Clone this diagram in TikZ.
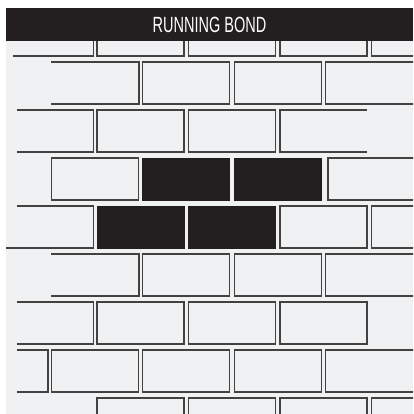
\documentclass[tikz,border=0pt]{standalone}
\usepackage{fontspec}
\newfontfamily\titlefont[FakeStretch=0.66]{Liberation Sans}
\usetikzlibrary{positioning}

\definecolor{wallgray}{HTML}{F0F1F3}
\definecolor{inkblack}{HTML}{231F20}

\begin{document}
\begin{tikzpicture}[
    x=1pt, y=-1pt,
    mortar/.style={draw=inkblack!85, line width=1.1pt, line join=miter},
    brick/.style={mortar, fill=wallgray},
    darkbrick/.style={draw=inkblack, fill=inkblack, line width=0.6pt},
    titlebar/.style={fill=inkblack, minimum width=407pt, minimum height=33pt,
      inner sep=0pt, text=white, font=\titlefont\fontsize{22}{22}\selectfont}
  ]
    \useasboundingbox (0,0) rectangle (413,414);

    % Wall panel
    \fill[wallgray] (6,41) rectangle (413,414);

    \begin{scope}
      \clip (6,41) rectangle (413,414);

      % Whole white bricks (row top / left x)
      \foreach \t/\x in {14/97, 14/188.5, 14/280,
                         62/142.75, 62/234.25,
                         110/97, 110/188.5,
                         158/51.25,
                         206/280,
                         254/142.75, 254/234.25,
                         302/97, 302/188.5, 302/280,
                         350/51.25, 350/142.75, 350/234.25,
                         398/97, 398/188.5, 398/280}
        \draw[brick] (\x,\t) rectangle ++(87,42);

      % The four bricks picked out in black
      \foreach \t/\x in {158/142.75, 158/234.25, 206/97, 206/188.5}
        \fill[darkbrick] (\x,\t) rectangle ++(87,42);

      % Bricks cut at the left edge
      \foreach \t/\a/\b in {14/13/93.5, 62/51/139, 110/17/93.5, 206/17/93.5,
                            254/51/139, 302/17/93.5, 350/17/48}
        \draw[mortar] (\a,\t) -- (\b,\t) -- (\b,\t+42) -- (\a,\t+42);
      \draw[mortar] (6,248) -- (17,248);

      % Bricks running off the right edge
      \foreach \t/\x in {14/371.5, 62/325.75, 158/328, 206/371.5,
                         254/325.75, 350/325.75, 398/371.5}
        \draw[mortar] (414,\t) -- (\x,\t) -- (\x,\t+42) -- (414,\t+42);
      \draw[mortar] (367,110) -- (280,110) -- (280,152) -- (367,152);
    \end{scope}

    % Title
    \node[titlebar] (title) at (209.5,24.5) {RUNNING BOND};
\end{tikzpicture}
\end{document}
